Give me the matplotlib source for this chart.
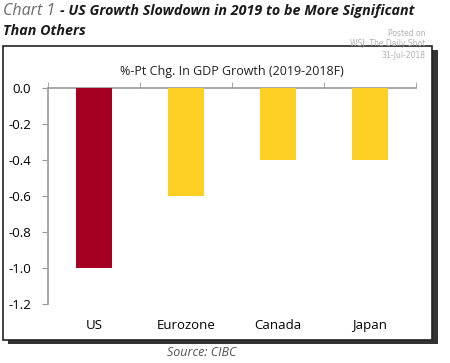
import matplotlib.pyplot as plt
from matplotlib.patches import Rectangle

# data
regions = ["US", "Eurozone", "Canada", "Japan"]
gdp_chg = [-1.0, -0.6, -0.4, -0.4]
bar_colors = ["#A50021", "#FDD023", "#FDD023", "#FDD023"]
yticks = [0.0, -0.2, -0.4, -0.6, -0.8, -1.0, -1.2]

W, H = 450, 363
fig = plt.figure(figsize=(W / 100, H / 100), dpi=100)
fig.patch.set_facecolor("white")

def fx(px):
    return px / W

def fy(py):
    return 1 - py / H

# boxed panel with drop shadow
fig.patches.append(Rectangle((fx(8), fy(344)), fx(430), (344 - 50) / H,
                             transform=fig.transFigure, facecolor="#333333",
                             edgecolor="none", zorder=0))
fig.patches.append(Rectangle((fx(3), fy(340)), fx(429), (340 - 46) / H,
                             transform=fig.transFigure, facecolor="white",
                             edgecolor="#222222", linewidth=1.2, zorder=1))

ax = fig.add_axes([fx(48), fy(304), fx(416 - 48), (304 - 88) / H])
ax.set_facecolor("none")
ax.set_zorder(2)

ax.bar(range(len(regions)), gdp_chg, width=0.4, color=bar_colors, zorder=3)
ax.set_xlim(-0.5, len(regions) - 0.5)
ax.set_ylim(-1.2, 0)

ax.spines["bottom"].set_visible(False)
ax.spines["right"].set_visible(False)
for s in ("top", "left"):
    ax.spines[s].set_color("#9a9a9a")
    ax.spines[s].set_linewidth(1.2)

ax.set_yticks(yticks)
ax.set_yticklabels([f"{v:.1f}" for v in yticks], fontsize=9.5, family="Open Sans")
ax.tick_params(axis="y", length=4, color="#9a9a9a", pad=8)

ax.set_xticks(range(len(regions)))
ax.set_xticklabels(regions, fontsize=9.5, family="Open Sans")
ax.set_xticks([i - 0.5 for i in range(len(regions) + 1)], minor=True)
ax.tick_params(axis="x", which="major", length=0, pad=11)
ax.tick_params(axis="x", which="minor", bottom=False, top=True, length=4,
               color="#9a9a9a", direction="out")

fig.text(fx(232), fy(71), "%-Pt Chg. In GDP Growth (2019-2018F)", ha="center",
         va="center", fontsize=9, family="Open Sans", color="#222222")

# title
fig.text(fx(3), fy(11), "Chart 1", ha="left", va="center", fontsize=11.5,
         style="italic", color="#6a6a6a", family="Open Sans")
fig.text(fx(60), fy(11), "- US Growth Slowdown in 2019 to be More Significant",
         ha="left", va="center", fontsize=10.3, style="italic", weight="bold",
         color="#1a1a1a", family="Open Sans")
fig.text(fx(3), fy(31), "Than Others", ha="left", va="center", fontsize=10.3,
         style="italic", weight="bold", color="#1a1a1a", family="Open Sans")

# watermark
for txt, y in [("Posted on", 33), ("WSJ: The Daily Shot", 44), ("31-Jul-2018", 55)]:
    fig.text(fx(425), fy(y), txt, ha="right", va="center", fontsize=5.5,
             color="#b0b0b0", zorder=5)

fig.text(fx(202), fy(353), "Source: CIBC", ha="center", va="center",
         fontsize=9, style="italic", color="#555555", family="Open Sans")

fig.savefig("out.png", dpi=100)
